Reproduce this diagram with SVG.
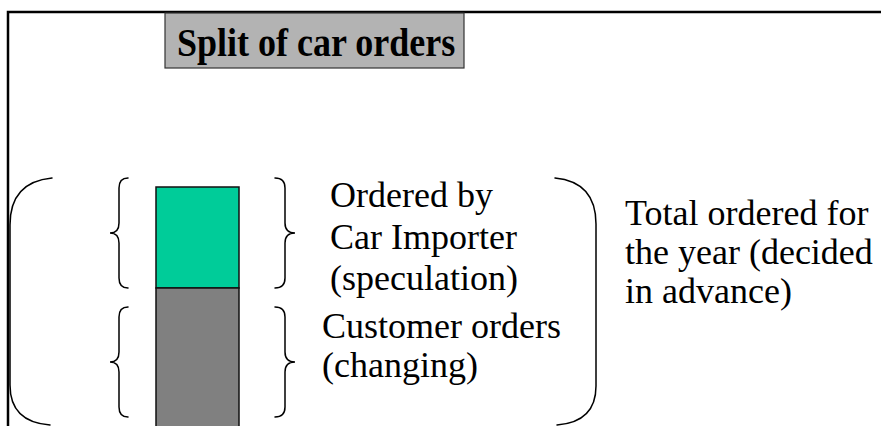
<svg xmlns="http://www.w3.org/2000/svg" width="881" height="426" viewBox="0 0 881 426">
  <style>
    .frame { fill: none; stroke: #000; stroke-width: 2.5; }
    .brace { fill: none; stroke: #000; stroke-width: 1.5; stroke-linecap: round; }
    .label { font-family: "Liberation Serif", "Times New Roman", serif; font-size: 36px; fill: #000; }
    .title { font-family: "Liberation Serif", "Times New Roman", serif; font-size: 36px; font-weight: bold; fill: #000; }
  </style>
  <rect x="0" y="0" width="881" height="426" fill="#fff"/>

  <!-- outer frame (top and left edges) -->
  <path class="frame" d="M8,426 L8,12 L881,12"/>

  <!-- title box -->
  <g id="title">
    <rect x="165" y="13" width="299" height="55" fill="#b3b3b3" stroke="#333" stroke-width="1.2"/>
    <text class="title" x="177" y="0" transform="translate(0,56) scale(1,1.1)">Split of car orders</text>
  </g>

  <!-- stacked bar -->
  <g id="bar">
    <rect id="bar-speculation" x="156" y="187" width="83" height="101" fill="#00cc99" stroke="#111" stroke-width="1.5"/>
    <rect id="bar-customer" x="156" y="288" width="83" height="145" fill="#808080" stroke="#111" stroke-width="1.5"/>
  </g>

  <!-- brackets -->
  <g id="brackets">
    <path class="brace" d="M128,178 Q119,178 119,188 L119,223 Q119,233 110,233 Q119,233 119,243 L119,278 Q119,288 128,288"/>
    <path class="brace" d="M128,307 Q119,307 119,317 L119,352 Q119,362 110,362 Q119,362 119,372 L119,407 Q119,417 128,417"/>
    <path class="brace" d="M275,178 Q285,178 285,188 L285,223 Q285,233 295,233 Q285,233 285,243 L285,278 Q285,288 275,288"/>
    <path class="brace" d="M275,307 Q285,307 285,317 L285,352 Q285,362 295,362 Q285,362 285,372 L285,407 Q285,417 275,417"/>
    <path class="brace" d="M52,178 Q10,182 10,225 L10,385 Q10,422 50,425"/>
    <path class="brace" d="M555,178 Q596,182 596,224 L596,386 Q596,422 557,425"/>
  </g>

  <!-- labels -->
  <g id="label-speculation">
    <text class="label" x="330" y="207">Ordered by</text>
    <text class="label" x="330" y="249">Car Importer</text>
    <text class="label" x="330" y="290">(speculation)</text>
  </g>
  <g id="label-customer">
    <text class="label" x="322" y="338">Customer orders</text>
    <text class="label" x="322" y="377">(changing)</text>
  </g>
  <g id="label-total">
    <text class="label" x="625" y="225">Total ordered for</text>
    <text class="label" x="625" y="264">the year (decided</text>
    <text class="label" x="625" y="303">in advance)</text>
  </g>
</svg>
